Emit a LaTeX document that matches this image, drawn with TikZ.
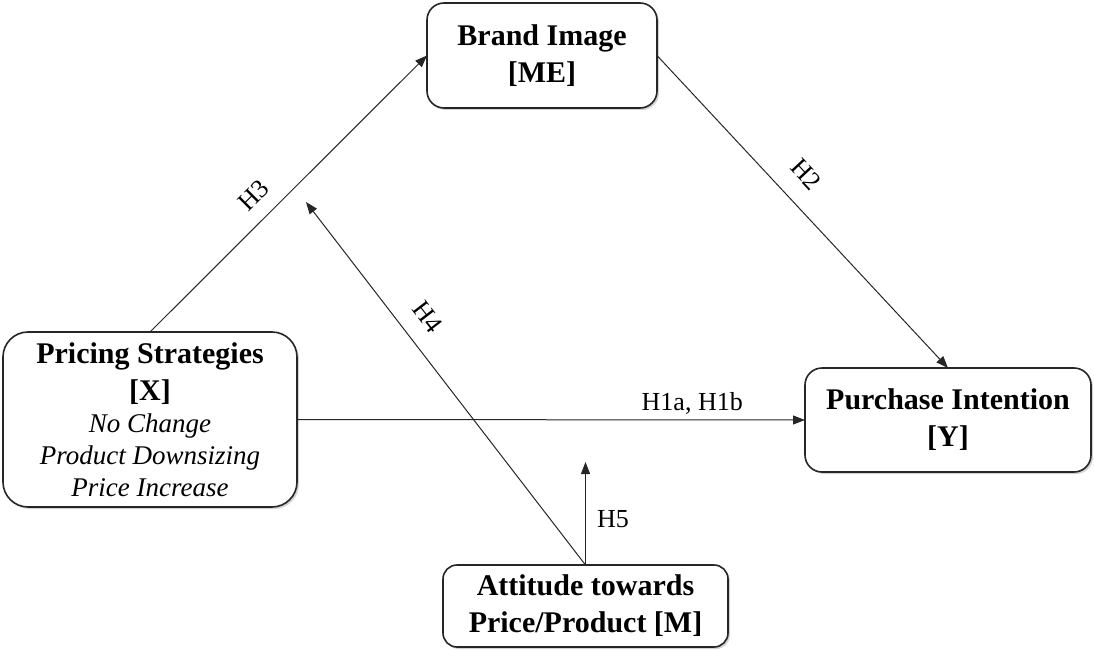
\documentclass[tikz,border=0pt]{standalone}
\usepackage{fontspec}
\setmainfont{Liberation Serif}
\usetikzlibrary{arrows.meta,shadows}
\newcommand\itl{\fontsize{27}{32}\selectfont\mdseries\itshape}
\begin{document}
\begin{tikzpicture}[x=1pt,y=-1pt,
  box/.style={draw=black!85, line width=1.6pt, fill=white, align=center,
    inner sep=0pt, outer sep=0pt, rounded corners=17pt,
    font=\fontsize{30}{37}\selectfont\bfseries,
    drop shadow={shadow xshift=2pt,shadow yshift=-2pt,opacity=0.35}},
  conn/.style={draw=black!85, line width=1pt, -{Triangle[length=12pt,width=9pt]}},
  lab/.style={font=\fontsize{26}{30}\selectfont, inner sep=2pt}]
\useasboundingbox (0,0) rectangle (1094,650);

\node[box, minimum width=230pt, minimum height=105pt] (ME) at (542,55.5) {Brand Image\\ {[ME]}};
\node[box, minimum width=294pt, minimum height=175pt, rounded corners=25pt] (X) at (150,419.5)
  {Pricing Strategies\\ {[X]}\\[-5pt] \itl No Change\\[-5pt] \itl Product Downsizing\\[-5pt] \itl Price Increase};
\node[box, minimum width=286pt, minimum height=104pt] (Y) at (948,420) {Purchase Intention\\ {[Y]}};
\node[box, minimum width=285pt, minimum height=82pt, rounded corners=14pt] (M) at (585.5,606) {Attitude towards\\ Price/Product [M]};

\coordinate (h4) at (306,202);
\coordinate (h5) at (585.5,462);

\draw[conn] (X.north) -- node[lab, sloped, pos=0.434, above=12pt] (l3) {H3} (ME.west);
\draw[conn] (ME.east) -- node[lab, sloped, pos=0.442, above=17pt] (l2) {H2} (Y.north);
\draw[conn] (X.east) -- node[lab, pos=0.778, above=3pt] (l1) {H1a, H1b} (Y.west);
\draw[conn] (M.north) -- node[lab, sloped, pos=0.639, above=15pt] (l4) {H4} (h4);
\draw[conn] (M.north) -- node[lab, pos=0.447, right=9pt] (l5) {H5} (h5);
\end{tikzpicture}
\end{document}
